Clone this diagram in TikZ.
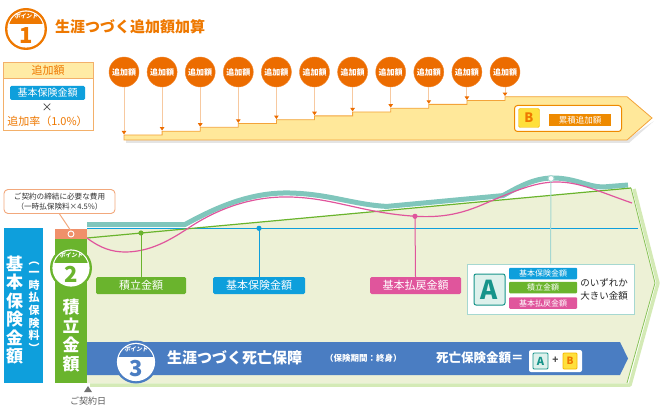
\documentclass[tikz,border=0pt]{standalone}
\usepackage{fontspec}
\setmainfont{Noto Sans CJK JP}
\newfontfamily\ptfont{Noto Sans CJK JP}[FakeSlant=0.2]
\usetikzlibrary{arrows.meta}
\definecolor{orT}{HTML}{EE7800}
\definecolor{orD}{HTML}{EC6C00}
\definecolor{orL}{HTML}{EE8A00}
\definecolor{boxO}{HTML}{F3B06A}
\definecolor{hdr}{HTML}{FFEBA5}
\definecolor{stepF}{HTML}{FFE89A}
\definecolor{stepD}{HTML}{F3A33A}
\definecolor{lineO}{HTML}{F7C9A0}
\definecolor{yelB}{HTML}{FFE03C}
\definecolor{yelD}{HTML}{F5B800}
\definecolor{blueC}{HTML}{0E9FDC}
\definecolor{greenC}{HTML}{6AB42D}
\definecolor{pinkC}{HTML}{E0559C}
\definecolor{tealC}{HTML}{80C6BC}
\definecolor{tealL}{HTML}{A6D8D1}
\definecolor{tealD}{HTML}{16948A}
\definecolor{tealF}{HTML}{DDF1EC}
\definecolor{band}{HTML}{4A7DC2}
\definecolor{bgG}{HTML}{EDF1D6}
\definecolor{glow}{HTML}{D4EAB6}
\definecolor{salmon}{HTML}{F0906A}
\definecolor{calloutD}{HTML}{F2A87C}
\newcommand{\pointmark}[6]{%
  \fill[#5] (#2,#3) circle (#4);
  \fill[white] (#2,#3) circle ({#4-2.4});
  \begin{scope}
    \clip (#2,#3) circle ({#4-3.6});
    \fill[#5] ({#2-#4},{#3-#4}) rectangle ({#2+#4},{#3-0.22*#4});
  \end{scope}
  \node[font=\ptfont\bfseries\fontsize{5.8}{6}\selectfont, text=white, inner sep=0] (#1p) at (#2,{#3-0.6*#4}) {ポイント};
  \node[font=\bfseries\fontsize{22}{22}\selectfont, text=#5, inner sep=0] (#1n) at (#2,{#3+0.3*#4}) {#6};
}
\tikzset{
  addc/.style={circle, fill=orD, draw=orD!80!white, minimum size=30pt, inner sep=0, text=white, font=\bfseries\fontsize{8}{8}\selectfont},
  lbl/.style={rounded corners=1.5pt, text=white, font=\fontsize{11}{11}\selectfont, inner sep=0, minimum height=17pt},
  slbl/.style={rounded corners=1pt, text=white, font=\fontsize{8}{8}\selectfont, inner sep=0, minimum height=11.5pt, minimum width=68pt},
  drop/.style={-{Triangle[width=4.5pt,length=3.5pt,color=orD]}, lineO, line width=1pt},
}
\begin{document}
\begin{tikzpicture}[x=1pt,y=-1pt]
\useasboundingbox (0,0) rectangle (660,406);

% ================= Part 1 =================
\pointmark{pA}{26}{29}{21}{orT}{1}
\node[anchor=west, text=orT, font=\bfseries\fontsize{15}{15}\selectfont, inner sep=0] (title1) at (55,27) {生涯つづく追加額加算};

\node[draw=boxO, line width=0.8pt, fill=white, minimum width=90pt, minimum height=68pt, inner sep=0] (addbox) at (48,96) {};
\node[draw=boxO, line width=0.8pt, fill=hdr, minimum width=90pt, minimum height=16pt, inner sep=0, text=orT, font=\fontsize{11}{11}\selectfont] (addhdr) at (48,70) {追加額};
\node[fill=blueC, rounded corners=1.5pt, minimum width=75pt, minimum height=14pt, inner sep=0, text=white, font=\fontsize{10}{10}\selectfont] (basebox) at (47.5,93) {基本保険金額};
\node[inner sep=0, text=black!80, font=\fontsize{11}{11}\selectfont] (times) at (47,108) {×};
\node[inner sep=0, text=orT, font=\fontsize{11}{11}\selectfont] (rate) at (47.5,121) {追加率（1.0\%）};

% step arrow shadow and shape
\fill[black!30, opacity=0.35] (126,143) -- (126,138) -- (629,138) -- (654,121) -- (629,143) -- cycle;
\draw[fill=stepF, draw=stepD, line width=0.8pt]
  (124,140) -- (124,135) -- (162.1,135) -- (162.1,131.2) -- (200.2,131.2) -- (200.2,127.3)
  -- (238.3,127.3) -- (238.3,123.5) -- (276.4,123.5) -- (276.4,119.7) -- (314.5,119.7)
  -- (314.5,115.9) -- (352.6,115.9) -- (352.6,112) -- (390.7,112) -- (390.7,108.2)
  -- (428.8,108.2) -- (428.8,104.4) -- (466.9,104.4) -- (466.9,100.5) -- (505,100.5)
  -- (505,96.7) -- (627,96.7) -- (652,118) -- (627,140) -- cycle;

\foreach \i in {1,...,11} {
  \pgfmathsetmacro\xx{124+38.1*(\i-1)}
  \pgfmathsetmacro\yy{135-3.83*(\i-1)-0.6}
  \coordinate (s\i) at (\xx,\yy);
  \node[addc] (c\i) at (\xx,72) {追加額};
  \draw[drop] (c\i.south) -- (s\i);
}

\node[draw=orL, fill=white, rounded corners=3pt, line width=1pt, minimum width=107pt, minimum height=26pt, inner sep=0] (bbox) at (568,118.5) {};
\node[fill=yelB, draw=yelD, rounded corners=1.5pt, minimum width=21pt, minimum height=19pt, inner sep=0, text=orT, font=\bfseries\fontsize{13}{13}\selectfont] (bsq) at (529,118) {B};
\node[fill=orL, minimum width=62pt, minimum height=12pt, inner sep=0, text=white, font=\fontsize{8.5}{8.5}\selectfont] (blabel) at (580,120) {累積追加額};

% ================= Part 2 =================
% main field
\fill[bgG] (87,228) -- (195,228) -- (631,188) -- (655,283) -- (627,383) -- (87,383) -- cycle;
\draw[glow, line width=3.5pt, line join=round] (634,189) -- (658,283) -- (630,385) -- (90,385);
\draw[greenC!80!white, line width=0.8pt, line join=round] (631,188) -- (655,283) -- (627,383);

% curves
\draw[tealC, line width=5pt, line join=round]
  (87,224.5) -- (185,224.5) .. controls (215,208) and (250,192) .. (290,193)
  .. controls (330,194) and (355,205) .. (387,206.4) -- (503,195.6)
  .. controls (520,186) and (535,178) .. (553,178)
  .. controls (575,178) and (588,187) .. (603,187) -- (628,185);
\draw[blueC, line width=1.3pt] (87,228.3) -- (638,228.3);
\draw[greenC, line width=1.2pt] (87,238) -- (631,188);
\draw[pinkC, line width=1.2pt]
  (87,238) .. controls (100,248) and (112,252) .. (125,252)
  .. controls (150,252) and (170,240) .. (187,229)
  .. controls (215,210) and (250,196) .. (290,197)
  .. controls (335,198) and (365,214) .. (420,216.5)
  .. controls (460,218) and (480,205) .. (503,196)
  .. controls (525,187) and (540,182) .. (557,182)
  .. controls (580,182) and (600,192) .. (632,203);

% markers and labels
\coordinate (gdot) at (141,233);
\coordinate (bdot) at (259,228.3);
\coordinate (pdot) at (415,216.3);
\coordinate (tdot) at (551,178.5);
\node[lbl, fill=greenC, minimum width=90pt] (glbl) at (141,285.5) {積立金額};
\node[lbl, fill=blueC, minimum width=92pt] (blbl) at (259,285.5) {基本保険金額};
\node[lbl, fill=pinkC, minimum width=91pt] (plbl) at (415.5,285.5) {基本払戻金額};
\node[draw=tealL, line width=0.9pt, fill=white, minimum width=167pt, minimum height=50pt, inner sep=0] (abox) at (550.5,289) {};
\draw[greenC, line width=1pt] (gdot) -- (glbl.north);
\draw[blueC, line width=1pt] (bdot) -- (blbl.north);
\draw[pinkC, line width=1pt] (pdot) -- (plbl.north);
\draw[tealL, line width=1pt] (tdot) -- (abox.north);
\fill[greenC] (gdot) circle (2.6);
\fill[blueC] (bdot) circle (2.6);
\fill[pinkC] (pdot) circle (2.6);
\draw[tealL, fill=white, line width=1pt] (tdot) circle (3);

\node[fill=tealF, draw=tealD, line width=1pt, rounded corners=2pt, minimum width=31pt, minimum height=31pt, inner sep=0, text=tealD, font=\bfseries\fontsize{26}{26}\selectfont] (asq) at (489.5,289.5) {A};
\node[slbl, fill=blueC] (sa1) at (543,273.5) {基本保険金額};
\node[slbl, fill=greenC] (sa2) at (543,287.5) {積立金額};
\node[slbl, fill=pinkC] (sa3) at (543,303) {基本払戻金額};
\node[inner sep=0, text=black!85, font=\fontsize{9.5}{9.5}\selectfont] (orwhich) at (604,283) {のいずれか};
\node[inner sep=0, text=black!85, font=\fontsize{9.5}{9.5}\selectfont] (larger) at (604,296) {大きい金額};

% left bars
\node[fill=blueC, minimum width=39pt, minimum height=155pt, inner sep=0] (bluebar) at (23.5,305.5) {};
\node[inner sep=0, align=center, text=white, font=\bfseries\fontsize{17}{18.5}\selectfont] (bluebarT) at (14.5,310) {基\\本\\保\\険\\金\\額};
\node[inner sep=0, align=center, text=white, font=\bfseries\fontsize{11}{12.6}\selectfont] (bluebarS) at (34,307) {︵\\一\\時\\払\\保\\険\\料\\︶};
\node[fill=greenC, minimum width=32pt, minimum height=144pt, inner sep=0] (greenbar) at (71,311) {};
\node[fill=salmon, minimum width=32pt, minimum height=10pt, inner sep=0] (costbar) at (71,234) {};
\node[inner sep=0, align=center, text=white, font=\bfseries\fontsize{17}{19}\selectfont] (greenbarT) at (71,336) {積\\立\\金\\額};

\node[draw=calloutD, line width=0.9pt, fill=white, rounded corners=4pt, minimum width=111pt, minimum height=24pt, inner sep=0, align=center, text=black!80, font=\fontsize{7.6}{10}\selectfont] (callout) at (59.5,201.5) {ご契約の締結に必要な費用\\（一時払保険料×4.5\%）};
\coordinate (costpt) at (71,234);
\draw[calloutD, line width=1pt] (callout.south) -- ([yshift=3pt]costpt);
\draw[white, line width=0.9pt] (costpt) circle (3);

\pointmark{pB}{71}{268}{21}{greenC}{2}

% point 3 band
\fill[band] (87,342) -- (620,342) -- (628,358.5) -- (620,375) -- (87,375) -- cycle;
\pointmark{pC}{136}{362}{21.5}{band}{3}
\node[anchor=west, inner sep=0, text=white, font=\bfseries\fontsize{15}{15}\selectfont] (death) at (167,358) {生涯つづく死亡保障};
\node[anchor=west, inner sep=0, text=white, font=\bfseries\fontsize{8.5}{8.5}\selectfont] (period) at (325,358.5) {（保険期間：終身）};
\node[anchor=west, inner sep=0, text=white, font=\bfseries\fontsize{12.5}{12.5}\selectfont] (dsum) at (436,358) {死亡保険金額＝};
\node[fill=white, rounded corners=2pt, minimum width=53pt, minimum height=22pt, inner sep=0] (abbox) at (555.5,361) {};
\node[fill=tealF, draw=tealD, line width=0.8pt, rounded corners=1pt, minimum width=15pt, minimum height=16pt, inner sep=0, text=tealD, font=\bfseries\fontsize{11}{11}\selectfont] (abA) at (540.5,361) {A};
\node[inner sep=0, text=black!70, font=\bfseries\fontsize{10}{10}\selectfont] (abplus) at (555.5,360.5) {+};
\node[fill=yelB, draw=yelD, line width=0.8pt, rounded corners=1pt, minimum width=14pt, minimum height=16pt, inner sep=0, text=orT, font=\bfseries\fontsize{10}{10}\selectfont] (abB) at (570,361) {B};

% contract date
\fill[black!55] (84,392) -- (88,386) -- (92,392) -- cycle;
\node[inner sep=0, text=black!65, font=\fontsize{9}{9}\selectfont] (kdate) at (88,401) {ご契約日};
\end{tikzpicture}
\end{document}
